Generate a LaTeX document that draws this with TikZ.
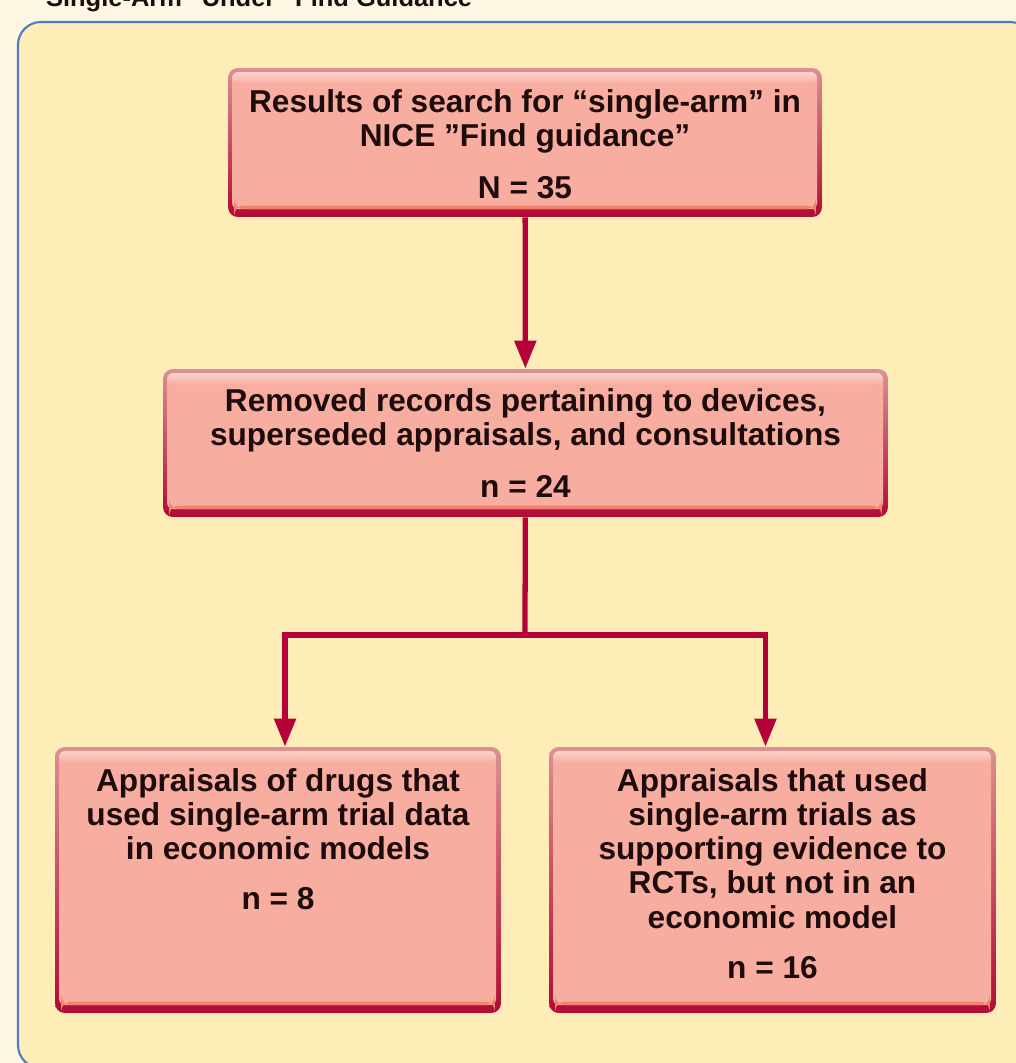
\documentclass[tikz,border=0pt]{standalone}
\usepackage{fontspec}
\setmainfont{Liberation Sans}
\usetikzlibrary{arrows.meta,positioning}
\definecolor{pagebg}{HTML}{FEF7E4}
\definecolor{panelfill}{HTML}{FFEDB8}
\definecolor{panelblue}{HTML}{4A7CC4}
\definecolor{flowred}{HTML}{B5003A}
\definecolor{boxfill}{HTML}{F7ADA0}
\definecolor{boxlight}{HTML}{FBD3CB}
\definecolor{edgetop}{HTML}{DC9094}
\definecolor{edgebot}{HTML}{B20B33}
\definecolor{boxband}{HTML}{F2816E}
\definecolor{inkdark}{HTML}{1E0B0B}

\begin{document}
\begin{tikzpicture}[x=0.02cm, y=-0.02cm, >={Triangle[length=16pt, width=12pt]},
  box/.style={rectangle, rounded corners=5.5pt, top color=edgetop, bottom color=edgebot, inner sep=0pt,
    path picture={
      \fill[boxfill, rounded corners=3.5pt] ([xshift=2.3pt,yshift=-2.3pt]path picture bounding box.north west)
        rectangle ([xshift=-2.8pt,yshift=4.5pt]path picture bounding box.south east);
      \shade[top color=boxlight, bottom color=boxfill, rounded corners=3.5pt] ([xshift=2.3pt,yshift=-2.3pt]path picture bounding box.north west)
        rectangle ([xshift=-2.8pt,yshift=-9pt]path picture bounding box.north east);
      \fill[boxband] ([xshift=3.5pt,yshift=4.5pt]path picture bounding box.south west)
        rectangle ([xshift=-3.5pt,yshift=6.5pt]path picture bounding box.south east);
    }},
  txt/.style={font=\fontsize{18}{19.5}\selectfont\bfseries, text=inkdark, align=center, inner sep=0pt},
  flow/.style={draw=flowred, line width=3pt, ->}]

\useasboundingbox (0,0) rectangle (1016,1063);
\fill[pagebg] (0,0) rectangle (1016,1063);
\draw[panelblue, line width=1.2pt, fill=panelfill, rounded corners=13pt] (18,22) rectangle (1033,1068);

\node[anchor=base west, font=\fontsize{14.5}{16}\selectfont\bfseries, text=inkdark, inner sep=0pt] (title) at (33,6)
  {“Single-Arm” Under “Find Guidance”};

% boxes
\node[box, minimum width=11.88cm, minimum height=2.98cm] (search) at (525,142.5) {};
\node[box, minimum width=14.5cm, minimum height=2.96cm] (removed) at (525.5,443) {};
\node[box, minimum width=8.92cm, minimum height=5.32cm] (models) at (278,880) {};
\node[box, minimum width=8.94cm, minimum height=5.32cm] (support) at (772.5,880) {};

% texts
\node[txt, below=12pt of search.north] (search-text)
  {Results of search for “single-arm” in\\NICE ”Find guidance”\\[10pt]N = 35};
\node[txt, below=11pt of removed.north] (removed-text)
  {Removed records pertaining to devices,\\superseded appraisals, and consultations\\[10pt]n = 24};
\node[txt, below=12pt of models.north] (models-text)
  {Appraisals of drugs that\\used single-arm trial data\\in economic models\\[9pt]n = 8};
\node[txt, below=12pt of support.north] (support-text)
  {Appraisals that used\\single-arm trials as\\supporting evidence to\\RCTs, but not in an\\economic model\\[9pt]n = 16};

% connectors
\coordinate (split) at (525,635);
\draw[flow] (search) -- (removed);
\draw[flowred, line width=3pt] (removed) -- (split);
\draw[flow] (split) -| ([xshift=4pt]models.north);
\draw[flow] (split) -| ([xshift=-4pt]support.north);

\end{tikzpicture}
\end{document}
